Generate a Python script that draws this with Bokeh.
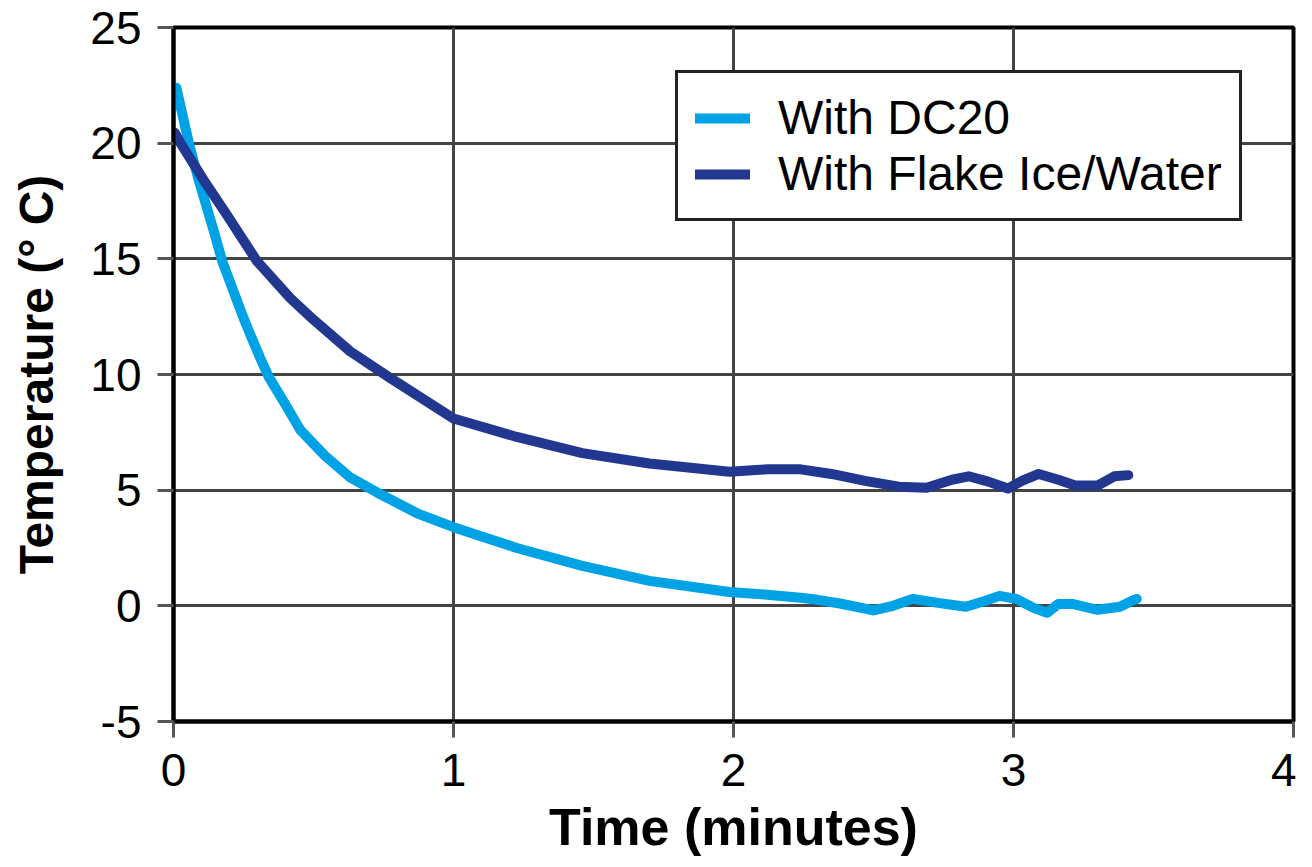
from bokeh.plotting import figure
from bokeh.models import Range1d, FixedTicker, Legend, LegendItem
from bokeh.embed import file_html
from bokeh.resources import INLINE

# ---- data ----
dc20_time = [0.01, 0.055, 0.09, 0.144, 0.174, 0.245, 0.275, 0.31, 0.34, 0.40, 0.453,
             0.54, 0.631, 0.727, 0.87, 1.00, 1.226, 1.46, 1.70, 1.985, 2.12, 2.24,
             2.30, 2.38, 2.50, 2.57, 2.64, 2.73, 2.83, 2.90, 2.95, 3.01, 3.07, 3.12,
             3.16, 3.21, 3.30, 3.38, 3.42, 3.44]
dc20_temp = [22.4, 20.0, 18.4, 16.2, 14.9, 12.6, 11.7, 10.7, 9.9, 8.7, 7.6,
             6.5, 5.55, 4.9, 4.0, 3.4, 2.5, 1.73, 1.08, 0.6, 0.48, 0.35,
             0.26, 0.1, -0.2, 0.0, 0.3, 0.13, -0.04, 0.22, 0.43, 0.3, -0.08, -0.3,
             0.08, 0.08, -0.17, -0.04, 0.2, 0.3]

ice_time = [0.005, 0.025, 0.108, 0.185, 0.298, 0.417, 0.488, 0.631, 0.774, 1.00,
            1.226, 1.46, 1.70, 1.985, 2.12, 2.24, 2.35, 2.47, 2.59, 2.69, 2.78,
            2.84, 2.91, 2.98, 3.03, 3.09, 3.16, 3.22, 3.30, 3.36, 3.41]
ice_temp = [20.45, 20.0, 18.4, 17.0, 14.9, 13.3, 12.5, 11.0, 9.85, 8.1,
            7.3, 6.6, 6.15, 5.8, 5.9, 5.9, 5.7, 5.4, 5.15, 5.1, 5.45,
            5.6, 5.37, 5.07, 5.4, 5.7, 5.45, 5.2, 5.2, 5.6, 5.65]

series_names = ["With DC20", "With Flake Ice/Water"]
series_colors = ["#00A2E6", "#22378F"]

x_ticks = [0, 1, 2, 3, 4]
y_ticks = [-5, 0, 5, 10, 15, 20, 25]

FONT = "Liberation Sans"

p = figure(width=1296, height=859, output_backend="svg", toolbar_location=None,
           x_range=Range1d(0, 4), y_range=Range1d(-5, 25),
           min_border_left=173, min_border_right=3, min_border_top=27,
           min_border_bottom=138)

r1 = p.line(dc20_time, dc20_temp, line_color=series_colors[0], line_width=10,
            line_join="round", line_cap="round")
r2 = p.line(ice_time, ice_temp, line_color=series_colors[1], line_width=10,
            line_join="round", line_cap="round")

# axes
for ax in (p.xaxis[0], p.yaxis[0]):
    ax.axis_line_color = "black"
    ax.axis_line_width = 4
    ax.major_tick_line_color = "#555555"
    ax.major_tick_line_width = 3
    ax.major_tick_out = 16
    ax.major_tick_in = 0
    ax.minor_tick_line_color = None
    ax.major_label_text_font = FONT
    ax.major_label_text_font_size = "46px"
    ax.major_label_text_color = "black"
    ax.axis_label_text_font = FONT
    ax.axis_label_text_font_style = "bold"
    ax.axis_label_text_color = "black"

p.xaxis.ticker = FixedTicker(ticks=x_ticks)
p.yaxis.ticker = FixedTicker(ticks=y_ticks)
p.yaxis.major_label_overrides = {-5: "-5"}
p.xaxis.axis_label = "Time (minutes)"
p.yaxis.axis_label = "Temperature (° C)"
p.xaxis.axis_label_text_font_size = "52px"
p.yaxis.axis_label_text_font_size = "48px"
p.xaxis.major_label_standoff = 16
p.yaxis.major_label_standoff = 16
p.xaxis.axis_label_standoff = 9
p.yaxis.axis_label_standoff = 24

# grid
p.xgrid.ticker = FixedTicker(ticks=x_ticks)
p.ygrid.ticker = FixedTicker(ticks=y_ticks)
for g in (p.xgrid[0], p.ygrid[0]):
    g.grid_line_color = "#444444"
    g.grid_line_width = 3

p.outline_line_color = "black"
p.outline_line_width = 4
p.background_fill_color = "white"
p.border_fill_color = "white"

legend = Legend(items=[LegendItem(label=series_names[0], renderers=[r1]),
                       LegendItem(label=series_names[1], renderers=[r2])],
                location=(502, 500))
legend.label_text_font = FONT
legend.label_text_font_size = "48px"
legend.label_text_color = "black"
legend.glyph_width = 55
legend.glyph_height = 40
legend.label_height = 40
legend.label_standoff = 28
legend.spacing = 1
legend.padding = 17
legend.margin = 0
legend.border_line_color = "#222222"
legend.border_line_alpha = 1.0
legend.border_line_width = 3
legend.background_fill_color = "white"
legend.background_fill_alpha = 1.0
p.add_layout(legend, "center")

open("out.html", "w").write(file_html(p, INLINE))
